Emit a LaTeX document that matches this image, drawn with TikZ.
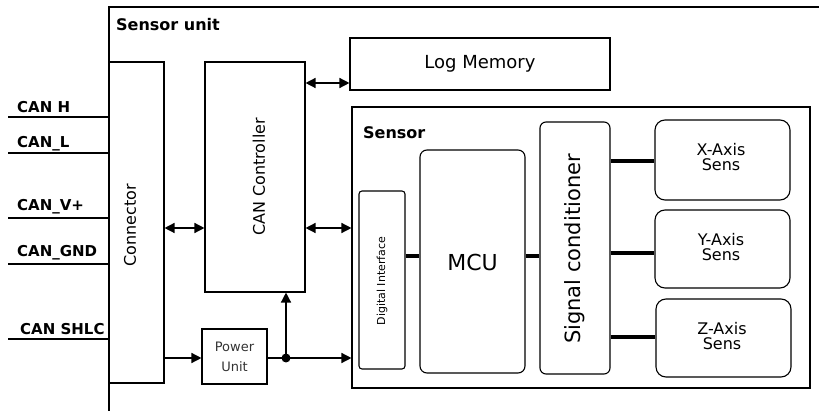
\documentclass[tikz,border=0pt]{standalone}
\usepackage{fontspec}
\setmainfont{DejaVu Sans}
\usetikzlibrary{arrows.meta}
\begin{document}
\begin{tikzpicture}[x=1pt,y=-1pt,
  box/.style={draw, line width=1.1pt, inner sep=0pt},
  rbox/.style={box, rounded corners=#1},
  lbl/.style={inner sep=0pt, font=\fontsize{16}{18}\selectfont},
  canlbl/.style={inner sep=0pt, anchor=base west, font=\fontsize{15}{16}\selectfont\bfseries},
  canline/.style={line width=2pt},
  arr/.style={line width=1.4pt, -{Triangle[length=10pt,width=10pt]}},
  darr/.style={line width=1.4pt, {Triangle[length=10pt,width=10pt]}-{Triangle[length=10pt,width=10pt]}},
  thick link/.style={line width=4.5pt},
  senslbl/.style={inner sep=0pt, align=center, font=\fontsize{16}{15}\selectfont}
]
\useasboundingbox (0,0) rectangle (819,411);

% Sensor unit frame
\draw[line width=1.6pt] (109,411) -- (109,7) -- (819,7);
\node[inner sep=0pt, anchor=base west, font=\fontsize{16}{18}\selectfont\bfseries] (sutitle) at (116,31) {Sensor unit};

% main blocks
\node[box, minimum width=55pt, minimum height=321pt] (conn) at (136.5,222.5) {};
\node[lbl, rotate=90] (connlbl) at (130,225) {Connector};
\node[box, minimum width=100pt, minimum height=230pt] (canc) at (255,177) {};
\node[lbl, rotate=90] (canclbl) at (259,177) {CAN Controller};
\node[box, minimum width=260pt, minimum height=52pt, font=\fontsize{18}{20}\selectfont] (logm) at (480,64) {Log Memory};
\node[box, minimum width=65pt, minimum height=55pt, align=center, text=black!80,
      font=\fontsize{13}{20}\selectfont] (pwr) at (234.5,356.5) {Power\\Unit};

% Sensor block
\node[box, minimum width=458pt, minimum height=281pt] (sensor) at (581,247.5) {};
\node[inner sep=0pt, anchor=base west, font=\fontsize{16}{18}\selectfont\bfseries] (senstitle) at (363,139) {Sensor};
\node[rbox=3pt, minimum width=46pt, minimum height=178pt] (dif) at (382,280) {};
\node[inner sep=0pt, rotate=90, font=\fontsize{11}{12}\selectfont] (diflbl) at (382,281) {Digital Interface};
\node[rbox=7pt, minimum width=105pt, minimum height=223pt] (mcu) at (472.5,261.5) {};
\node[inner sep=0pt, font=\fontsize{22}{24}\selectfont] (mculbl) at (472.5,262) {MCU};
\node[rbox=6pt, minimum width=70pt, minimum height=252pt] (sigc) at (575,248) {};
\node[inner sep=0pt, rotate=90, font=\fontsize{21}{24}\selectfont] (sigclbl) at (575,249) {Signal conditioner};
\node[rbox=10pt, minimum width=135pt, minimum height=80pt] (xs) at (722.5,160) {};
\node[senslbl] (xslbl) at (721,157) {X-Axis\\Sens};
\node[rbox=10pt, minimum width=135pt, minimum height=78pt] (ys) at (722.5,249) {};
\node[senslbl] (yslbl) at (721,247) {Y-Axis\\Sens};
\node[rbox=10pt, minimum width=135pt, minimum height=78pt] (zs) at (723.5,338) {};
\node[senslbl] (zslbl) at (722,336) {Z-Axis\\Sens};

% CAN bus lines
\coordinate (h) at (8,117);
\coordinate (l) at (8,153);
\coordinate (v) at (8,218);
\coordinate (g) at (8,264);
\coordinate (s) at (8,339);
\draw[canline] (h) -- (conn.west |- h);
\draw[canline] (l) -- (conn.west |- l);
\draw[canline] (v) -- (conn.west |- v);
\draw[canline] (g) -- (conn.west |- g);
\draw[canline] (s) -- (conn.west |- s);
\node[canlbl] (hl) at (17,113) {CAN H};
\node[canlbl] (ll) at (17,148) {CAN\_L};
\node[canlbl] (vl) at (17,211) {CAN\_V+};
\node[canlbl] (gl) at (17,257) {CAN\_GND};
\node[canlbl] (sl) at (20,335) {CAN SHLC};

% arrows
\coordinate (ya) at (0,83);
\coordinate (yb) at (0,228);
\coordinate (yp) at (0,358);
\draw[darr] (canc.east |- ya) -- (logm.west |- ya);
\draw[darr] (conn.east |- yb) -- (canc.west |- yb);
\draw[darr] (canc.east |- yb) -- (sensor.west |- yb);
\draw[arr] (conn.east |- yp) -- (pwr.west |- yp);
\coordinate (j) at (286,358);
\draw[arr] (pwr.east |- yp) -- (sensor.west |- yp);
\draw[arr] (j) -- (j |- canc.south);
\fill (j) circle (4.5pt);

% thick internal links
\coordinate (yx) at (0,161);
\coordinate (yy) at (0,253);
\coordinate (yz) at (0,337);
\coordinate (ym) at (0,256);
\draw[thick link] (sigc.east |- yx) -- (xs.west |- yx);
\draw[thick link] (sigc.east |- yy) -- (ys.west |- yy);
\draw[thick link] (sigc.east |- yz) -- (zs.west |- yz);
\draw[thick link] (dif.east |- ym) -- (mcu.west |- ym);
\draw[thick link] (mcu.east |- ym) -- (sigc.west |- ym);
\end{tikzpicture}
\end{document}
